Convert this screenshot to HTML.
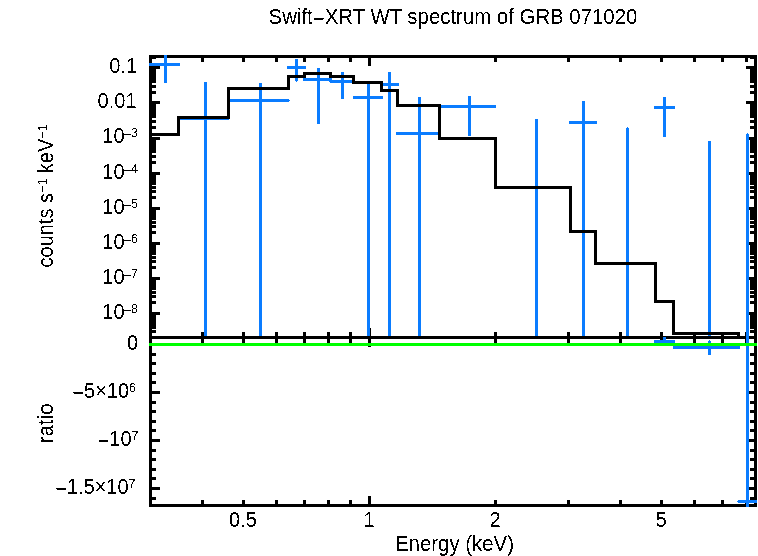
<!DOCTYPE html>
<html><head><meta charset="utf-8"><style>
html,body{margin:0;padding:0;background:#fff;}
svg{display:block;}
text{font-family:"Liberation Sans", Arial, Helvetica, sans-serif;fill:#000;}
</style></head><body>
<svg width="758" height="556" viewBox="0 0 758 556">
<defs><filter id="bin" filterUnits="userSpaceOnUse" x="0" y="0" width="758" height="556" color-interpolation-filters="sRGB"><feComponentTransfer><feFuncA type="discrete" tableValues="0 1"/></feComponentTransfer></filter></defs>
<rect x="0" y="0" width="758" height="556" fill="#fff"/>
<g shape-rendering="crispEdges">
<rect x="149" y="55" width="608" height="3" fill="#000"/>
<rect x="149" y="55" width="3" height="284" fill="#000"/>
<rect x="754" y="55" width="3" height="284" fill="#000"/>
<rect x="149" y="336" width="608" height="3" fill="#000"/>
<rect x="149" y="336" width="3" height="171" fill="#000"/>
<rect x="754" y="336" width="3" height="171" fill="#000"/>
<rect x="149" y="504" width="608" height="3" fill="#000"/>
<rect x="201" y="58" width="3" height="4" fill="#000"/>
<rect x="201" y="332" width="3" height="4" fill="#000"/>
<rect x="201" y="339" width="3" height="4" fill="#000"/>
<rect x="201" y="500" width="3" height="4" fill="#000"/>
<rect x="242" y="58" width="3" height="4" fill="#000"/>
<rect x="242" y="332" width="3" height="4" fill="#000"/>
<rect x="242" y="339" width="3" height="4" fill="#000"/>
<rect x="242" y="500" width="3" height="4" fill="#000"/>
<rect x="275" y="58" width="3" height="4" fill="#000"/>
<rect x="275" y="332" width="3" height="4" fill="#000"/>
<rect x="275" y="339" width="3" height="4" fill="#000"/>
<rect x="275" y="500" width="3" height="4" fill="#000"/>
<rect x="303" y="58" width="3" height="4" fill="#000"/>
<rect x="303" y="332" width="3" height="4" fill="#000"/>
<rect x="303" y="339" width="3" height="4" fill="#000"/>
<rect x="303" y="500" width="3" height="4" fill="#000"/>
<rect x="327" y="58" width="3" height="4" fill="#000"/>
<rect x="327" y="332" width="3" height="4" fill="#000"/>
<rect x="327" y="339" width="3" height="4" fill="#000"/>
<rect x="327" y="500" width="3" height="4" fill="#000"/>
<rect x="349" y="58" width="3" height="4" fill="#000"/>
<rect x="349" y="332" width="3" height="4" fill="#000"/>
<rect x="349" y="339" width="3" height="4" fill="#000"/>
<rect x="349" y="500" width="3" height="4" fill="#000"/>
<rect x="494" y="58" width="3" height="4" fill="#000"/>
<rect x="494" y="332" width="3" height="4" fill="#000"/>
<rect x="494" y="339" width="3" height="4" fill="#000"/>
<rect x="494" y="500" width="3" height="4" fill="#000"/>
<rect x="567" y="58" width="3" height="4" fill="#000"/>
<rect x="567" y="332" width="3" height="4" fill="#000"/>
<rect x="567" y="339" width="3" height="4" fill="#000"/>
<rect x="567" y="500" width="3" height="4" fill="#000"/>
<rect x="619" y="58" width="3" height="4" fill="#000"/>
<rect x="619" y="332" width="3" height="4" fill="#000"/>
<rect x="619" y="339" width="3" height="4" fill="#000"/>
<rect x="619" y="500" width="3" height="4" fill="#000"/>
<rect x="660" y="58" width="3" height="4" fill="#000"/>
<rect x="660" y="332" width="3" height="4" fill="#000"/>
<rect x="660" y="339" width="3" height="4" fill="#000"/>
<rect x="660" y="500" width="3" height="4" fill="#000"/>
<rect x="693" y="58" width="3" height="4" fill="#000"/>
<rect x="693" y="332" width="3" height="4" fill="#000"/>
<rect x="693" y="339" width="3" height="4" fill="#000"/>
<rect x="693" y="500" width="3" height="4" fill="#000"/>
<rect x="721" y="58" width="3" height="4" fill="#000"/>
<rect x="721" y="332" width="3" height="4" fill="#000"/>
<rect x="721" y="339" width="3" height="4" fill="#000"/>
<rect x="721" y="500" width="3" height="4" fill="#000"/>
<rect x="745" y="58" width="3" height="4" fill="#000"/>
<rect x="745" y="332" width="3" height="4" fill="#000"/>
<rect x="745" y="339" width="3" height="4" fill="#000"/>
<rect x="745" y="500" width="3" height="4" fill="#000"/>
<rect x="368" y="58" width="3" height="8" fill="#000"/>
<rect x="368" y="328" width="3" height="8" fill="#000"/>
<rect x="368" y="339" width="3" height="8" fill="#000"/>
<rect x="368" y="496" width="3" height="8" fill="#000"/>
<rect x="152" y="330" width="4" height="3" fill="#000"/>
<rect x="750" y="330" width="4" height="3" fill="#000"/>
<rect x="152" y="326" width="4" height="3" fill="#000"/>
<rect x="750" y="326" width="4" height="3" fill="#000"/>
<rect x="152" y="323" width="4" height="3" fill="#000"/>
<rect x="750" y="323" width="4" height="3" fill="#000"/>
<rect x="152" y="320" width="4" height="3" fill="#000"/>
<rect x="750" y="320" width="4" height="3" fill="#000"/>
<rect x="152" y="317" width="4" height="3" fill="#000"/>
<rect x="750" y="317" width="4" height="3" fill="#000"/>
<rect x="152" y="315" width="4" height="3" fill="#000"/>
<rect x="750" y="315" width="4" height="3" fill="#000"/>
<rect x="152" y="314" width="4" height="3" fill="#000"/>
<rect x="750" y="314" width="4" height="3" fill="#000"/>
<rect x="152" y="312" width="8" height="3" fill="#000"/>
<rect x="746" y="312" width="8" height="3" fill="#000"/>
<rect x="152" y="301" width="4" height="3" fill="#000"/>
<rect x="750" y="301" width="4" height="3" fill="#000"/>
<rect x="152" y="295" width="4" height="3" fill="#000"/>
<rect x="750" y="295" width="4" height="3" fill="#000"/>
<rect x="152" y="291" width="4" height="3" fill="#000"/>
<rect x="750" y="291" width="4" height="3" fill="#000"/>
<rect x="152" y="287" width="4" height="3" fill="#000"/>
<rect x="750" y="287" width="4" height="3" fill="#000"/>
<rect x="152" y="285" width="4" height="3" fill="#000"/>
<rect x="750" y="285" width="4" height="3" fill="#000"/>
<rect x="152" y="282" width="4" height="3" fill="#000"/>
<rect x="750" y="282" width="4" height="3" fill="#000"/>
<rect x="152" y="280" width="4" height="3" fill="#000"/>
<rect x="750" y="280" width="4" height="3" fill="#000"/>
<rect x="152" y="279" width="4" height="3" fill="#000"/>
<rect x="750" y="279" width="4" height="3" fill="#000"/>
<rect x="152" y="277" width="8" height="3" fill="#000"/>
<rect x="746" y="277" width="8" height="3" fill="#000"/>
<rect x="152" y="266" width="4" height="3" fill="#000"/>
<rect x="750" y="266" width="4" height="3" fill="#000"/>
<rect x="152" y="260" width="4" height="3" fill="#000"/>
<rect x="750" y="260" width="4" height="3" fill="#000"/>
<rect x="152" y="256" width="4" height="3" fill="#000"/>
<rect x="750" y="256" width="4" height="3" fill="#000"/>
<rect x="152" y="252" width="4" height="3" fill="#000"/>
<rect x="750" y="252" width="4" height="3" fill="#000"/>
<rect x="152" y="250" width="4" height="3" fill="#000"/>
<rect x="750" y="250" width="4" height="3" fill="#000"/>
<rect x="152" y="247" width="4" height="3" fill="#000"/>
<rect x="750" y="247" width="4" height="3" fill="#000"/>
<rect x="152" y="245" width="4" height="3" fill="#000"/>
<rect x="750" y="245" width="4" height="3" fill="#000"/>
<rect x="152" y="243" width="4" height="3" fill="#000"/>
<rect x="750" y="243" width="4" height="3" fill="#000"/>
<rect x="152" y="242" width="8" height="3" fill="#000"/>
<rect x="746" y="242" width="8" height="3" fill="#000"/>
<rect x="152" y="231" width="4" height="3" fill="#000"/>
<rect x="750" y="231" width="4" height="3" fill="#000"/>
<rect x="152" y="225" width="4" height="3" fill="#000"/>
<rect x="750" y="225" width="4" height="3" fill="#000"/>
<rect x="152" y="221" width="4" height="3" fill="#000"/>
<rect x="750" y="221" width="4" height="3" fill="#000"/>
<rect x="152" y="217" width="4" height="3" fill="#000"/>
<rect x="750" y="217" width="4" height="3" fill="#000"/>
<rect x="152" y="214" width="4" height="3" fill="#000"/>
<rect x="750" y="214" width="4" height="3" fill="#000"/>
<rect x="152" y="212" width="4" height="3" fill="#000"/>
<rect x="750" y="212" width="4" height="3" fill="#000"/>
<rect x="152" y="210" width="4" height="3" fill="#000"/>
<rect x="750" y="210" width="4" height="3" fill="#000"/>
<rect x="152" y="208" width="4" height="3" fill="#000"/>
<rect x="750" y="208" width="4" height="3" fill="#000"/>
<rect x="152" y="207" width="8" height="3" fill="#000"/>
<rect x="746" y="207" width="8" height="3" fill="#000"/>
<rect x="152" y="196" width="4" height="3" fill="#000"/>
<rect x="750" y="196" width="4" height="3" fill="#000"/>
<rect x="152" y="190" width="4" height="3" fill="#000"/>
<rect x="750" y="190" width="4" height="3" fill="#000"/>
<rect x="152" y="186" width="4" height="3" fill="#000"/>
<rect x="750" y="186" width="4" height="3" fill="#000"/>
<rect x="152" y="182" width="4" height="3" fill="#000"/>
<rect x="750" y="182" width="4" height="3" fill="#000"/>
<rect x="152" y="179" width="4" height="3" fill="#000"/>
<rect x="750" y="179" width="4" height="3" fill="#000"/>
<rect x="152" y="177" width="4" height="3" fill="#000"/>
<rect x="750" y="177" width="4" height="3" fill="#000"/>
<rect x="152" y="175" width="4" height="3" fill="#000"/>
<rect x="750" y="175" width="4" height="3" fill="#000"/>
<rect x="152" y="173" width="4" height="3" fill="#000"/>
<rect x="750" y="173" width="4" height="3" fill="#000"/>
<rect x="152" y="172" width="8" height="3" fill="#000"/>
<rect x="746" y="172" width="8" height="3" fill="#000"/>
<rect x="152" y="161" width="4" height="3" fill="#000"/>
<rect x="750" y="161" width="4" height="3" fill="#000"/>
<rect x="152" y="155" width="4" height="3" fill="#000"/>
<rect x="750" y="155" width="4" height="3" fill="#000"/>
<rect x="152" y="150" width="4" height="3" fill="#000"/>
<rect x="750" y="150" width="4" height="3" fill="#000"/>
<rect x="152" y="147" width="4" height="3" fill="#000"/>
<rect x="750" y="147" width="4" height="3" fill="#000"/>
<rect x="152" y="144" width="4" height="3" fill="#000"/>
<rect x="750" y="144" width="4" height="3" fill="#000"/>
<rect x="152" y="142" width="4" height="3" fill="#000"/>
<rect x="750" y="142" width="4" height="3" fill="#000"/>
<rect x="152" y="140" width="4" height="3" fill="#000"/>
<rect x="750" y="140" width="4" height="3" fill="#000"/>
<rect x="152" y="138" width="4" height="3" fill="#000"/>
<rect x="750" y="138" width="4" height="3" fill="#000"/>
<rect x="152" y="137" width="8" height="3" fill="#000"/>
<rect x="746" y="137" width="8" height="3" fill="#000"/>
<rect x="152" y="126" width="4" height="3" fill="#000"/>
<rect x="750" y="126" width="4" height="3" fill="#000"/>
<rect x="152" y="120" width="4" height="3" fill="#000"/>
<rect x="750" y="120" width="4" height="3" fill="#000"/>
<rect x="152" y="115" width="4" height="3" fill="#000"/>
<rect x="750" y="115" width="4" height="3" fill="#000"/>
<rect x="152" y="112" width="4" height="3" fill="#000"/>
<rect x="750" y="112" width="4" height="3" fill="#000"/>
<rect x="152" y="109" width="4" height="3" fill="#000"/>
<rect x="750" y="109" width="4" height="3" fill="#000"/>
<rect x="152" y="107" width="4" height="3" fill="#000"/>
<rect x="750" y="107" width="4" height="3" fill="#000"/>
<rect x="152" y="105" width="4" height="3" fill="#000"/>
<rect x="750" y="105" width="4" height="3" fill="#000"/>
<rect x="152" y="103" width="4" height="3" fill="#000"/>
<rect x="750" y="103" width="4" height="3" fill="#000"/>
<rect x="152" y="101" width="8" height="3" fill="#000"/>
<rect x="746" y="101" width="8" height="3" fill="#000"/>
<rect x="152" y="91" width="4" height="3" fill="#000"/>
<rect x="750" y="91" width="4" height="3" fill="#000"/>
<rect x="152" y="85" width="4" height="3" fill="#000"/>
<rect x="750" y="85" width="4" height="3" fill="#000"/>
<rect x="152" y="80" width="4" height="3" fill="#000"/>
<rect x="750" y="80" width="4" height="3" fill="#000"/>
<rect x="152" y="77" width="4" height="3" fill="#000"/>
<rect x="750" y="77" width="4" height="3" fill="#000"/>
<rect x="152" y="74" width="4" height="3" fill="#000"/>
<rect x="750" y="74" width="4" height="3" fill="#000"/>
<rect x="152" y="72" width="4" height="3" fill="#000"/>
<rect x="750" y="72" width="4" height="3" fill="#000"/>
<rect x="152" y="70" width="4" height="3" fill="#000"/>
<rect x="750" y="70" width="4" height="3" fill="#000"/>
<rect x="152" y="68" width="4" height="3" fill="#000"/>
<rect x="750" y="68" width="4" height="3" fill="#000"/>
<rect x="152" y="66" width="8" height="3" fill="#000"/>
<rect x="746" y="66" width="8" height="3" fill="#000"/>
<rect x="152" y="56" width="4" height="3" fill="#000"/>
<rect x="750" y="56" width="4" height="3" fill="#000"/>
<rect x="152" y="353" width="4" height="3" fill="#000"/>
<rect x="750" y="353" width="4" height="3" fill="#000"/>
<rect x="152" y="362" width="4" height="3" fill="#000"/>
<rect x="750" y="362" width="4" height="3" fill="#000"/>
<rect x="152" y="372" width="4" height="3" fill="#000"/>
<rect x="750" y="372" width="4" height="3" fill="#000"/>
<rect x="152" y="381" width="4" height="3" fill="#000"/>
<rect x="750" y="381" width="4" height="3" fill="#000"/>
<rect x="152" y="391" width="8" height="3" fill="#000"/>
<rect x="746" y="391" width="8" height="3" fill="#000"/>
<rect x="152" y="401" width="4" height="3" fill="#000"/>
<rect x="750" y="401" width="4" height="3" fill="#000"/>
<rect x="152" y="410" width="4" height="3" fill="#000"/>
<rect x="750" y="410" width="4" height="3" fill="#000"/>
<rect x="152" y="420" width="4" height="3" fill="#000"/>
<rect x="750" y="420" width="4" height="3" fill="#000"/>
<rect x="152" y="429" width="4" height="3" fill="#000"/>
<rect x="750" y="429" width="4" height="3" fill="#000"/>
<rect x="152" y="439" width="8" height="3" fill="#000"/>
<rect x="746" y="439" width="8" height="3" fill="#000"/>
<rect x="152" y="449" width="4" height="3" fill="#000"/>
<rect x="750" y="449" width="4" height="3" fill="#000"/>
<rect x="152" y="458" width="4" height="3" fill="#000"/>
<rect x="750" y="458" width="4" height="3" fill="#000"/>
<rect x="152" y="468" width="4" height="3" fill="#000"/>
<rect x="750" y="468" width="4" height="3" fill="#000"/>
<rect x="152" y="477" width="4" height="3" fill="#000"/>
<rect x="750" y="477" width="4" height="3" fill="#000"/>
<rect x="152" y="487" width="8" height="3" fill="#000"/>
<rect x="746" y="487" width="8" height="3" fill="#000"/>
<rect x="152" y="497" width="4" height="3" fill="#000"/>
<rect x="750" y="497" width="4" height="3" fill="#000"/>
<rect x="152" y="343" width="8" height="3" fill="#000"/>
<rect x="746" y="343" width="8" height="3" fill="#000"/>
<rect x="164" y="55" width="3" height="28" fill="#0a7cff"/>
<rect x="149" y="63" width="31" height="3" fill="#0a7cff"/>
<rect x="204" y="82" width="3" height="254" fill="#0a7cff"/>
<rect x="180" y="117" width="49" height="3" fill="#0a7cff"/>
<rect x="259" y="83" width="3" height="253" fill="#0a7cff"/>
<rect x="230" y="99" width="59" height="3" fill="#0a7cff"/>
<rect x="289" y="100" width="1" height="1" fill="#0a7cff"/>
<rect x="295" y="59" width="3" height="22" fill="#0a7cff"/>
<rect x="287" y="66" width="19" height="3" fill="#0a7cff"/>
<rect x="296" y="81" width="1" height="1" fill="#0a7cff"/>
<rect x="317" y="68" width="3" height="56" fill="#0a7cff"/>
<rect x="303" y="78" width="29" height="3" fill="#0a7cff"/>
<rect x="341" y="72" width="3" height="27" fill="#0a7cff"/>
<rect x="330" y="80" width="22" height="3" fill="#0a7cff"/>
<rect x="329" y="80" width="1" height="2" fill="#0a7cff"/>
<rect x="367" y="84" width="3" height="252" fill="#0a7cff"/>
<rect x="353" y="96" width="30" height="3" fill="#0a7cff"/>
<rect x="388" y="72" width="3" height="264" fill="#0a7cff"/>
<rect x="383" y="83" width="16" height="3" fill="#0a7cff"/>
<rect x="418" y="97" width="3" height="239" fill="#0a7cff"/>
<rect x="396" y="132" width="42" height="3" fill="#0a7cff"/>
<rect x="468" y="96" width="3" height="40" fill="#0a7cff"/>
<rect x="441" y="105" width="55" height="3" fill="#0a7cff"/>
<rect x="535" y="119" width="3" height="217" fill="#0a7cff"/>
<rect x="582" y="101" width="3" height="235" fill="#0a7cff"/>
<rect x="569" y="121" width="28" height="3" fill="#0a7cff"/>
<rect x="626" y="128" width="3" height="208" fill="#0a7cff"/>
<rect x="627" y="127" width="1" height="1" fill="#0a7cff"/>
<rect x="663" y="97" width="3" height="40" fill="#0a7cff"/>
<rect x="654" y="106" width="21" height="3" fill="#0a7cff"/>
<rect x="708" y="141" width="3" height="195" fill="#0a7cff"/>
<rect x="746" y="134" width="3" height="202" fill="#0a7cff"/>
<rect x="747" y="133" width="1" height="1" fill="#0a7cff"/>
<rect x="663" y="337" width="3" height="6" fill="#0a7cff"/>
<rect x="654" y="340" width="21" height="3" fill="#0a7cff"/>
<rect x="708" y="341" width="3" height="14" fill="#0a7cff"/>
<rect x="673" y="346" width="67" height="3" fill="#0a7cff"/>
<rect x="709" y="340" width="1" height="1" fill="#0a7cff"/>
<rect x="746" y="336" width="3" height="171" fill="#0a7cff"/>
<rect x="738" y="500" width="19" height="3" fill="#0a7cff"/>
<rect x="737" y="501" width="1" height="1" fill="#0a7cff"/>
<rect x="149" y="133" width="31" height="3" fill="#000"/>
<rect x="177" y="116" width="3" height="20" fill="#000"/>
<rect x="177" y="116" width="53" height="3" fill="#000"/>
<rect x="227" y="87" width="3" height="32" fill="#000"/>
<rect x="227" y="87" width="63" height="3" fill="#000"/>
<rect x="287" y="75" width="3" height="15" fill="#000"/>
<rect x="287" y="75" width="19" height="3" fill="#000"/>
<rect x="303" y="72" width="3" height="6" fill="#000"/>
<rect x="303" y="72" width="29" height="3" fill="#000"/>
<rect x="329" y="72" width="3" height="6" fill="#000"/>
<rect x="329" y="75" width="26" height="3" fill="#000"/>
<rect x="352" y="75" width="3" height="9" fill="#000"/>
<rect x="352" y="81" width="31" height="3" fill="#000"/>
<rect x="380" y="81" width="3" height="11" fill="#000"/>
<rect x="380" y="89" width="19" height="3" fill="#000"/>
<rect x="396" y="89" width="3" height="18" fill="#000"/>
<rect x="396" y="104" width="45" height="3" fill="#000"/>
<rect x="438" y="104" width="3" height="36" fill="#000"/>
<rect x="438" y="137" width="59" height="3" fill="#000"/>
<rect x="494" y="137" width="3" height="52" fill="#000"/>
<rect x="494" y="186" width="78" height="3" fill="#000"/>
<rect x="569" y="186" width="3" height="47" fill="#000"/>
<rect x="569" y="230" width="28" height="3" fill="#000"/>
<rect x="594" y="230" width="3" height="35" fill="#000"/>
<rect x="594" y="262" width="63" height="3" fill="#000"/>
<rect x="654" y="262" width="3" height="41" fill="#000"/>
<rect x="654" y="300" width="21" height="3" fill="#000"/>
<rect x="672" y="300" width="3" height="35" fill="#000"/>
<rect x="672" y="332" width="68" height="3" fill="#000"/>
<rect x="737" y="332" width="3" height="4" fill="#000"/>
<rect x="149" y="343" width="608" height="3" fill="#00ff00"/>
</g>
<g filter="url(#bin)">
<text transform="translate(453,24) scale(1,1.07)" text-anchor="middle" font-size="20.4" >Swift<tspan dy="2">−</tspan><tspan dy="-2">XRT WT spectrum of GRB 071020</tspan></text>
<text transform="translate(137,73) scale(1,1.07)" text-anchor="end" font-size="20" >0.1</text>
<text transform="translate(136.5,108) scale(1,1.07)" text-anchor="end" font-size="20" >0.01</text>
<text transform="translate(138,143) scale(1,1.07)" text-anchor="end" font-size="20" >10<tspan font-size="12.5" dx="-0.5" dy="-5">–</tspan><tspan font-size="12.5" dy="-1">3</tspan></text>
<text transform="translate(138,179) scale(1,1.07)" text-anchor="end" font-size="20" >10<tspan font-size="12.5" dx="-0.5" dy="-5">–</tspan><tspan font-size="12.5" dy="-1">4</tspan></text>
<text transform="translate(138,214) scale(1,1.07)" text-anchor="end" font-size="20" >10<tspan font-size="12.5" dx="-0.5" dy="-5">–</tspan><tspan font-size="12.5" dy="-1">5</tspan></text>
<text transform="translate(138,249) scale(1,1.07)" text-anchor="end" font-size="20" >10<tspan font-size="12.5" dx="-0.5" dy="-5">–</tspan><tspan font-size="12.5" dy="-1">6</tspan></text>
<text transform="translate(138,284) scale(1,1.07)" text-anchor="end" font-size="20" >10<tspan font-size="12.5" dx="-0.5" dy="-5">–</tspan><tspan font-size="12.5" dy="-1">7</tspan></text>
<text transform="translate(138,319) scale(1,1.07)" text-anchor="end" font-size="20" >10<tspan font-size="12.5" dx="-0.5" dy="-5">–</tspan><tspan font-size="12.5" dy="-1">8</tspan></text>
<text transform="translate(138,350) scale(1,1.07)" text-anchor="end" font-size="20" >0</text>
<text transform="translate(136,398) scale(1,1.07)" text-anchor="end" font-size="20" ><tspan dy="2">−</tspan><tspan dy="-2">5×10<tspan font-size="12.5" dy="-6">6</tspan></tspan></text>
<text transform="translate(138.5,446) scale(1,1.07)" text-anchor="end" font-size="20" ><tspan dy="2">−</tspan><tspan dy="-2">10<tspan font-size="12.5" dy="-6">7</tspan></tspan></text>
<text transform="translate(135.5,494) scale(1,1.07)" text-anchor="end" font-size="20" ><tspan dy="2">−</tspan><tspan dy="-2">1.5×10<tspan font-size="12.5" dy="-6">7</tspan></tspan></text>
<text transform="translate(243,527) scale(1,1.07)" text-anchor="middle" font-size="20" >0.5</text>
<text transform="translate(369,527) scale(1,1.07)" text-anchor="middle" font-size="20" >1</text>
<text transform="translate(495,527) scale(1,1.07)" text-anchor="middle" font-size="20" >2</text>
<text transform="translate(661,527) scale(1,1.07)" text-anchor="middle" font-size="20" >5</text>
<text transform="translate(454.5,551) scale(1,1.07)" text-anchor="middle" font-size="20.4" >Energy (keV)</text>
</g>
<g filter="url(#bin)">
<text transform="translate(53,196) rotate(-90) scale(1,1.07)" text-anchor="middle" font-size="20">counts s<tspan font-size="12.5" dx="0.5" dy="-6">−1</tspan><tspan dx="-0.5" dy="6"> keV</tspan><tspan font-size="12.5" dy="-6">−1</tspan></text>
<text transform="translate(53,423.25) rotate(-90) scale(1,1.07)" text-anchor="middle" font-size="20.6">ratio</text>
</g>
</svg>
</body></html>
